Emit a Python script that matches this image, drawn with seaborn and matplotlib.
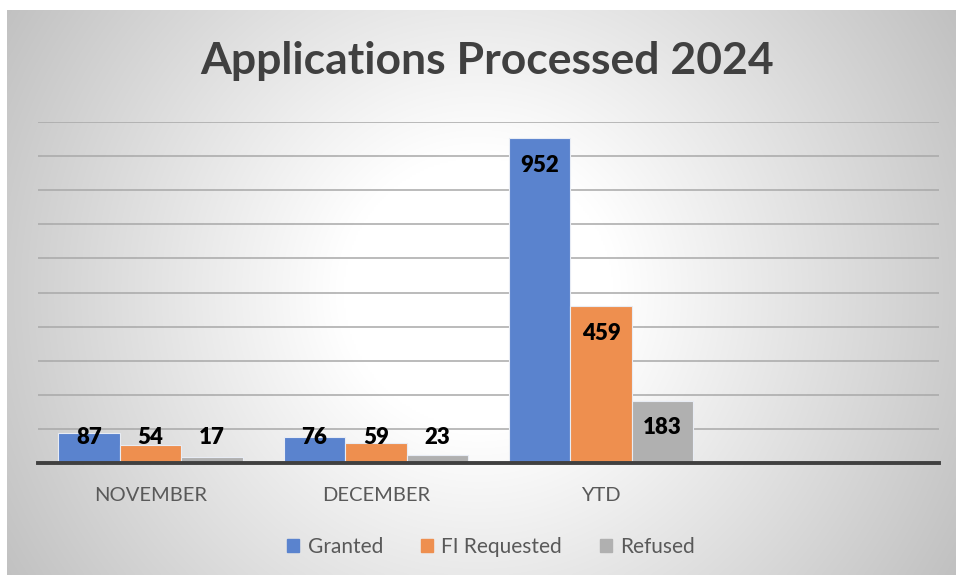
import numpy as np
import pandas as pd
import matplotlib.pyplot as plt
import matplotlib.patches as mpatches
import seaborn as sns

# Data
periods = ["NOVEMBER", "DECEMBER", "YTD"]
granted = [87, 76, 952]
fi_requested = [54, 59, 459]
refused = [17, 23, 183]
series_names = ["Granted", "FI Requested", "Refused"]
colors = ["#5A83CE", "#EE8F4F", "#B0B0B0"]

df = pd.DataFrame({
    "Period": periods * 3,
    "Status": np.repeat(series_names, len(periods)),
    "Count": granted + fi_requested + refused,
})

sns.set_theme(style="white")
plt.rcParams["font.family"] = ["Lato", "DejaVu Sans"]

W, H = 956, 575
fig = plt.figure(figsize=(W / 100, H / 100), dpi=100)

# radial grey gradient background (white centre, grey edges)
bg = fig.add_axes([7 / W, 0, (W - 7) / W, (H - 10) / H])
py, px = np.mgrid[10:H:2, 7:W:2]
d = np.hypot(px - 478, py - 292)
shade = np.clip(255 - 0.149 * np.clip(d - 136, 0, None), 190, 255) / 255.0
bg.imshow(np.dstack([shade] * 3), aspect="auto", extent=[0, 1, 0, 1], interpolation="bilinear")
bg.set_axis_off()

# main plot area
ax = fig.add_axes([38 / W, (H - 463) / H, 901 / W, 341 / H])
ax.patch.set_alpha(0)
sns.barplot(data=df, x="Period", y="Count", hue="Status",
            order=periods + [""], hue_order=series_names, palette=colors,
            width=0.82, edgecolor="#E8ECF4", linewidth=0.8, saturation=1,
            legend=False, ax=ax, zorder=3)

ax.set_ylim(0, 1000)
ax.set_xlim(-0.5, 3.5)
ax.set_yticks(np.arange(0, 1001, 100))
ax.set_yticklabels([])
ax.yaxis.grid(True, color="#A8A8A8", linewidth=1.1)
ax.set_axisbelow(True)
for s in ["top", "right", "left"]:
    ax.spines[s].set_visible(False)
ax.spines["bottom"].set_color("#404040")
ax.spines["bottom"].set_linewidth(2.8)
ax.spines["bottom"].set_zorder(5)
ax.tick_params(axis="both", length=0)
ax.tick_params(axis="x", pad=17, labelsize=14.5, labelcolor="#595959")
ax.set_xlabel("")
ax.set_ylabel("")

# data labels: inside end, pushed up when the bar is too short
for cont in ax.containers:
    for bar in cont:
        h = bar.get_height()
        if np.isnan(h):
            continue
        y = max(h - 79, 74)
        ax.text(bar.get_x() + bar.get_width() / 2, y, f"{int(round(h))}",
                ha="center", va="center", fontsize=16, fontweight="heavy",
                color="black", zorder=6)

fig.text(487 / W, 1 - 61 / H, "Applications Processed 2024", ha="center", va="center",
         fontsize=32, fontweight="bold", color="#404040")

handles = [mpatches.Patch(color=c, label=n) for c, n in zip(colors, series_names)]
fig.legend(handles=handles, loc="center", bbox_to_anchor=(491 / W, 1 - 547 / H),
           ncol=3, frameon=False, fontsize=15, labelcolor="#595959",
           handlelength=0.6, handleheight=0.6, handletextpad=0.4, columnspacing=1.8)

fig.savefig("out.png", dpi=100)
